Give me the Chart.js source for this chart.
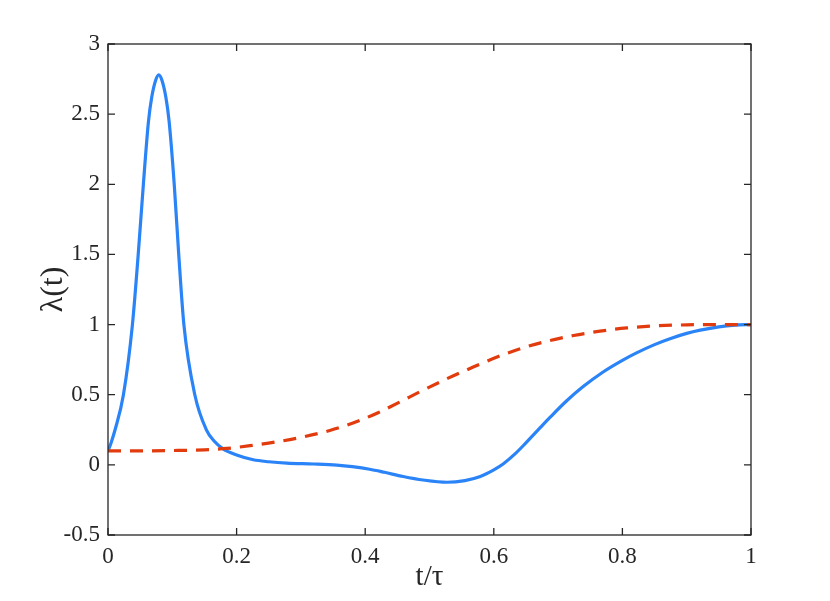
<!DOCTYPE html>
<html>
<head>
<meta charset="utf-8">
<title>lambda(t)</title>
<script src="https://cdn.jsdelivr.net/npm/chart.js@4.4.1/dist/chart.umd.min.js"></script>
<style>
  html, body { margin: 0; padding: 0; background: #fff; }
  #wrap { width: 830px; height: 601px; }
</style>
</head>
<body>
<div id="wrap"><canvas id="lambdaChart" width="830" height="601"></canvas></div>
<script>
'use strict';

/* ── DATA ────────────────────────────────────────────────── */
const xTicks = [0, 0.2, 0.4, 0.6, 0.8, 1];
const xTickLabels = ['0', '0.2', '0.4', '0.6', '0.8', '1'];
const yTicks = [-0.5, 0, 0.5, 1, 1.5, 2, 2.5, 3];
const yTickLabels = ['-0.5', '0', '0.5', '1', '1.5', '2', '2.5', '3'];

// solid blue curve
const blueT = [0, 0.005, 0.011, 0.024, 0.038, 0.047, 0.055, 0.063, 0.068, 0.074, 0.079,
               0.084, 0.090, 0.095, 0.103, 0.110, 0.118, 0.135, 0.153, 0.165, 0.179,
               0.200, 0.226, 0.250, 0.278, 0.320, 0.356, 0.380, 0.407, 0.430, 0.459,
               0.490, 0.527, 0.555, 0.579, 0.600, 0.615, 0.633, 0.651, 0.670, 0.687,
               0.713, 0.739, 0.770, 0.800, 0.822, 0.850, 0.874, 0.900, 0.921, 0.950,
               0.975, 1.0];
const blueV = [0.10, 0.16, 0.25, 0.50, 1.00, 1.50, 2.00, 2.45, 2.62, 2.74, 2.78,
               2.74, 2.62, 2.45, 2.00, 1.50, 1.00, 0.50, 0.25, 0.17, 0.114,
               0.070, 0.036, 0.022, 0.012, 0.006, -0.002, -0.013, -0.031, -0.053, -0.083,
               -0.108, -0.124, -0.112, -0.083, -0.036, 0.008, 0.078, 0.162, 0.254, 0.336,
               0.455, 0.558, 0.662, 0.745, 0.798, 0.857, 0.899, 0.937, 0.960, 0.984,
               0.996, 1.0];

// dashed red curve
const redT = [0, 0.05, 0.10, 0.15, 0.185, 0.226, 0.265, 0.304, 0.345, 0.381, 0.420,
              0.459, 0.485, 0.529, 0.568, 0.607, 0.646, 0.685, 0.724, 0.765, 0.807,
              0.848, 0.90, 0.95, 1.0];
const redV = [0.10, 0.10, 0.102, 0.107, 0.117, 0.140, 0.166, 0.200, 0.245, 0.298, 0.372,
              0.460, 0.521, 0.618, 0.697, 0.772, 0.835, 0.884, 0.922, 0.953, 0.976,
              0.990, 0.998, 1.0, 1.0];

/* ── HELPERS ─────────────────────────────────────────────── */
const AXIS_COLOR = '#262626';
const FONT = "'Liberation Serif', 'Times New Roman', serif";
const toPoints = (ts, vs) => ts.map((t, i) => ({ x: t, y: vs[i] }));

// box round the plot area + inward tick marks on all four sides
const boxPlugin = {
  id: 'matlabBox',
  afterDraw(chart) {
    const { ctx, chartArea: a, scales: { x, y } } = chart;
    const len = 7;
    ctx.save();
    ctx.strokeStyle = AXIS_COLOR;
    ctx.lineWidth = 1.3;
    ctx.strokeRect(a.left, a.top, a.right - a.left, a.bottom - a.top);
    ctx.beginPath();
    xTicks.forEach(v => {
      const px = x.getPixelForValue(v);
      ctx.moveTo(px, a.bottom); ctx.lineTo(px, a.bottom - len);
      ctx.moveTo(px, a.top);    ctx.lineTo(px, a.top + len);
    });
    yTicks.forEach(v => {
      const py = y.getPixelForValue(v);
      ctx.moveTo(a.left, py);  ctx.lineTo(a.left + len, py);
      ctx.moveTo(a.right, py); ctx.lineTo(a.right - len, py);
    });
    ctx.stroke();
    ctx.restore();
  }
};

/* ── CHART ───────────────────────────────────────────────── */
new Chart(document.getElementById('lambdaChart'), {
  type: 'line',
  data: {
    datasets: [
      {
        label: 'dashed',
        data: toPoints(redT, redV),
        borderColor: '#e23b0e',
        borderWidth: 3.2,
        borderDash: [13, 9],
        pointRadius: 0,
        cubicInterpolationMode: 'monotone',
        fill: false,
      },
      {
        label: 'solid',
        data: toPoints(blueT, blueV),
        borderColor: '#2a84f7',
        borderWidth: 3.2,
        pointRadius: 0,
        cubicInterpolationMode: 'monotone',
        fill: false,
      }
    ]
  },
  options: {
    responsive: false,
    animation: false,
    events: [],
    layout: { padding: { top: 44, right: 79, left: 0, bottom: 0 } },
    plugins: { legend: { display: false }, tooltip: { enabled: false } },
    scales: {
      x: {
        type: 'linear',
        min: 0, max: 1,
        afterFit: s => { s.height = 66; },
        afterBuildTicks: s => { s.ticks = xTicks.map(v => ({ value: v })); },
        grid: { display: false, drawTicks: false },
        border: { display: false },
        ticks: {
          padding: 8,
          color: AXIS_COLOR,
          font: { family: FONT, size: 23 },
          maxRotation: 0,
          callback: v => xTickLabels[xTicks.indexOf(v)] ?? ''
        },
        title: {
          display: true,
          text: 't/τ',
          color: AXIS_COLOR,
          font: { family: FONT, size: 29, lineHeight: 1 },
          padding: { top: 0, bottom: 9 }
        }
      },
      y: {
        type: 'linear',
        min: -0.5, max: 3,
        afterFit: s => { s.width = 108; },
        afterBuildTicks: s => { s.ticks = yTicks.map(v => ({ value: v })); },
        grid: { display: false, drawTicks: false },
        border: { display: false },
        ticks: {
          padding: 8,
          color: AXIS_COLOR,
          font: { family: FONT, size: 23 },
          callback: v => yTickLabels[yTicks.indexOf(v)] ?? ''
        },
        title: {
          display: true,
          text: 'λ(t)',
          color: AXIS_COLOR,
          font: { family: FONT, size: 32, lineHeight: 1 },
          padding: { top: 38, bottom: 0 }
        }
      }
    }
  },
  plugins: [boxPlugin]
});
</script>
</body>
</html>
